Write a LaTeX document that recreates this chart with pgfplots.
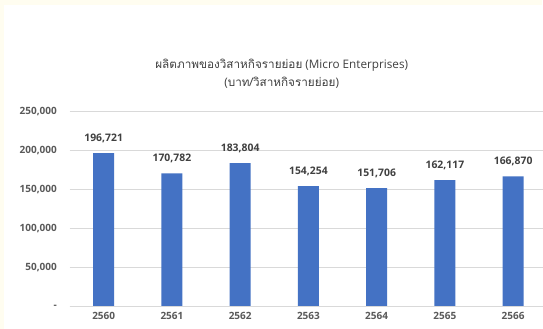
\documentclass[border=0pt]{standalone}
\usepackage{pgfplots}
\pgfplotsset{compat=1.18}
\usepackage{fontspec}
\setmainfont{Open Sans}
\newfontfamily\thaifont[Script=Thai]{Loma}
\definecolor{barblue}{HTML}{4472C4}
\definecolor{gridgray}{HTML}{D9D9D9}
\definecolor{ticktext}{HTML}{595959}
\definecolor{labeltext}{HTML}{404040}
\definecolor{cream}{HTML}{FFFDF0}
\begin{document}
\begin{tikzpicture}
% background: image is 543x329 px, 1 px = 0.75pt; axis origin at (69.6px, 306.7px)
\fill[cream] (-52.2pt,-16.7pt) rectangle (355.05pt,230pt);
\fill[white] (-49.2pt,-16.7pt) rectangle (355.05pt,226.3pt);
\begin{axis}[
  scale only axis,
  width=355.05pt, height=146.25pt,
  xmin=-0.5, xmax=6.43,
  ymin=0, ymax=250000,
  axis line style={draw=none},
  axis x line*=bottom,
  ymajorgrids, grid style={gridgray, line width=0.75pt},
  major tick length=0pt,
  scaled y ticks=false,
  ytick={0,50000,100000,150000,200000,250000},
  yticklabels={{-},{50,000},{100,000},{150,000},{200,000},{250,000}},
  xtick=data,
  xticklabels={2560,2561,2562,2563,2564,2565,2566},
  tick label style={font=\fontsize{7.5}{9}\selectfont\bfseries, text=ticktext},
  yticklabel style={xshift=-6pt},
  xticklabel style={yshift=-1pt},
  /pgf/number format/assume math mode=true,
  nodes near coords={\pgfmathprintnumber[1000 sep={,}, fixed, precision=0]{\pgfplotspointmeta}},
  nodes near coords style={font=\fontsize{7.8}{9}\selectfont\bfseries, text=labeltext, yshift=4.5pt},
  clip=false,
]
\addplot[ybar, bar width=15.75pt, fill=barblue, draw=none] coordinates {
  (0,196721) (1,170782) (2,183804) (3,154254) (4,151706) (5,162117) (6,166870)};
\draw[gridgray, line width=0.75pt] (axis cs:-0.5,0) -- (axis cs:6.43,0);
\end{axis}
\node[align=center, text=labeltext, font=\fontsize{8.8}{13.5}\selectfont] at (159.3pt,174.5pt)
  {{\thaifont ผลิตภาพของวิสาหกิจรายย่อย} (Micro Enterprises)\\({\thaifont บาท/วิสาหกิจรายย่อย})};
\end{tikzpicture}
\end{document}
